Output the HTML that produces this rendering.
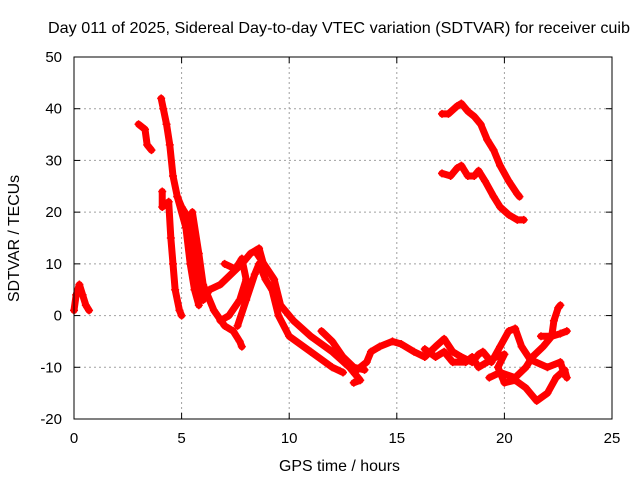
<!DOCTYPE html>
<html><head><meta charset="utf-8"><style>
body{margin:0;background:#fff}
svg{display:block;font-family:"Liberation Sans",sans-serif}
</style></head><body>
<svg id="chart" width="640" height="480">
<text x="48" y="33" font-size="16" textLength="582" lengthAdjust="spacingAndGlyphs">Day 011 of 2025, Sidereal Day-to-day VTEC variation (SDTVAR) for receiver cuib</text>
<text x="279" y="471" font-size="16" textLength="121" lengthAdjust="spacingAndGlyphs">GPS time / hours</text>
<text transform="translate(19,302) rotate(-90)" font-size="16" textLength="127" lengthAdjust="spacingAndGlyphs">SDTVAR / TECUs</text>
<g id="grid"></g><g id="marks"></g><g id="axes"></g>
</svg>
<script>
const xTicks=[0,5,10,15,20,25];
const yTicks=[-20,-10,0,10,20,30,40,50];
const track1=[[0,1],[0.1,4],[0.25,6],[0.4,4],[0.55,2],[0.7,1]];
const track2=[[3.0,37],[3.3,36],[3.4,33],[3.6,32]];
const track3=[[4.05,42],[4.15,40],[4.3,37],[4.45,33],[4.6,27],[4.8,23],[5.0,21],[5.3,19],[5.5,14],[5.7,9],[5.8,5],[6.0,3],[6.3,5],[6.8,6],[7.3,8],[7.8,10],[8.2,12],[8.6,13],[8.8,10]];
const track4=[[4.1,24],[4.1,21],[4.4,22],[4.5,15],[4.6,10],[4.7,5],[4.9,1],[5.0,0]];
const track5=[[4.8,23],[5.2,17],[5.4,10],[5.6,5],[5.8,2]];
const track6=[[5.5,20],[5.8,12],[6.0,6],[6.5,1],[7.0,-2],[7.4,-3],[7.7,-5],[7.8,-6]];
const track7=[[7.0,10],[7.5,9],[7.8,11],[8.0,7],[7.7,3],[7.2,0],[6.8,-1]];
const track8=[[7.6,-2],[8.0,3],[8.4,8],[8.6,10],[8.9,7],[9.2,5],[9.5,0],[10,-4],[11,-7],[12,-10],[12.5,-11]];
const track9=[[8.5,12],[9.3,7],[9.6,2],[10.2,-1],[11,-4],[12,-7],[12.8,-10],[13.3,-12.5],[13.0,-13]];
const track10=[[11.5,-3],[12,-5],[12.5,-8],[13,-10],[13.5,-10.5]];
const track11=[[13.0,-11],[13.6,-9],[13.8,-7],[14.2,-6],[14.8,-5],[15.2,-5.5],[15.8,-7],[16.3,-8],[16.8,-6],[17.2,-4.5],[17.6,-7],[18.0,-8],[18.5,-9],[18.8,-7.5],[19.0,-7],[19.4,-9],[19.8,-6],[20.2,-3],[20.5,-2.5],[20.8,-6],[21.2,-8.5],[22.0,-10],[22.6,-9],[22.8,-11.5]];
const track12=[[16.3,-6.5],[16.8,-8],[17.2,-7],[17.6,-9],[18.2,-9],[18.5,-8],[18.8,-10],[19.2,-9],[19.6,-8],[20.0,-7.5],[19.7,-10],[20.0,-13],[20.5,-12.5],[21.0,-14],[21.5,-16.5],[22.0,-15],[22.4,-12],[22.8,-10.5],[22.9,-12]];
const track13=[[19.3,-12],[19.8,-11],[20.5,-12],[21.0,-10],[21.3,-8],[21.8,-6],[22.2,-4],[22.6,-3.5],[22.9,-3]];
const track14=[[21.7,-4],[22.2,-4],[22.3,-1],[22.5,1.5],[22.6,2]];
const track15=[[17.1,39],[17.4,39],[17.8,40.5],[18.0,41],[18.3,39.5],[18.6,38.5],[18.9,37],[19.2,34],[19.5,32],[19.8,29],[20.2,26],[20.6,23.5],[20.7,23]];
const track16=[[17.1,27.5],[17.5,27],[17.8,28.5],[18.0,29],[18.3,27],[18.6,27],[18.8,28],[19.1,26],[19.5,23],[19.8,21],[20.2,19.5],[20.6,18.5],[20.9,18.5]];
const tracks=[track1,track2,track3,track4,track5,track6,track7,track8,track9,track10,track11,track12,track13,track14,track15,track16];

const X0=74,X1=612,Y0=419,Y1=57;
const xS=v=>X0+(v-0)/(25-0)*(X1-X0);
const yS=v=>Y0-(v+20)/(70)*(Y0-Y1);
const NS="http://www.w3.org/2000/svg";
function mk(tag,attrs,parent){const e=document.createElementNS(NS,tag);for(const k in attrs)e.setAttribute(k,attrs[k]);parent.appendChild(e);return e;}
const grid=document.getElementById('grid'),axes=document.getElementById('axes'),marks=document.getElementById('marks');
xTicks.forEach(t=>{const x=xS(t);
 if(t>0&&t<25){const g=mk('line',{x1:x,x2:x,y1:Y1,y2:Y0,stroke:'#a0a0a0','stroke-dasharray':'2,3'},grid);
 
 }
 mk('line',{x1:x,x2:x,y1:Y0,y2:Y0-6,stroke:'#000'},axes);mk('line',{x1:x,x2:x,y1:Y1,y2:Y1+6,stroke:'#000'},axes);
 const l=mk('text',{x:x,y:Y0+24,'font-size':15,'text-anchor':'middle'},axes);l.textContent=t;
 
 });
yTicks.forEach(t=>{const y=yS(t);
 if(t>-20&&t<50){const g=mk('line',{x1:X0,x2:X1,y1:y,y2:y,stroke:'#a0a0a0','stroke-dasharray':'2,3'},grid);
 
 }
 mk('line',{x1:X0,x2:X0+6,y1:y,y2:y,stroke:'#000'},axes);mk('line',{x1:X1,x2:X1-6,y1:y,y2:y,stroke:'#000'},axes);
 const l=mk('text',{x:X0-12,y:y+5,'font-size':15,'text-anchor':'end'},axes);l.textContent=t;
 
 });
const frame=mk('rect',{x:X0,y:Y1,width:X1-X0,height:Y0-Y1,fill:'none',stroke:'#000'},axes);


tracks.forEach((tr,i)=>{
 const pl=mk('polyline',{points:tr.map(p=>xS(p[0])+','+yS(p[1])).join(' '),fill:'none',stroke:'#ff0000','stroke-width':7,'stroke-linejoin':'round','stroke-linecap':'round'},marks);
 
 
 tr.forEach(p=>{const x=xS(p[0]),y=yS(p[1]);
  const m=mk('path',{d:`M${x-4},${y}H${x+4}M${x},${y-4}V${y+4}`,stroke:'#ff0000','stroke-width':1.5},marks);
  
  });
});
</script>
</body></html>
